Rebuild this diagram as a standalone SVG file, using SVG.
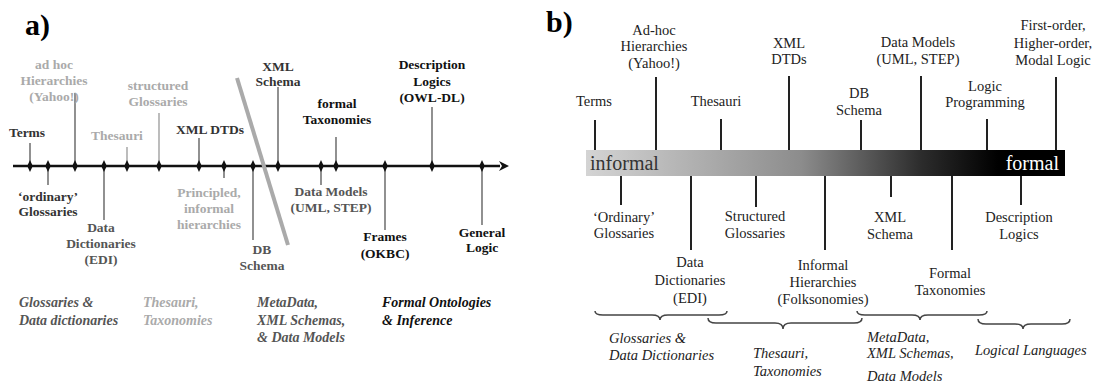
<svg xmlns="http://www.w3.org/2000/svg" width="1096" height="382" viewBox="0 0 1096 382">
<style>
.a{font-family:"Liberation Serif","Times New Roman",serif;font-weight:bold;font-size:13.5px;text-anchor:middle}
.ai{font-family:"Liberation Serif","Times New Roman",serif;font-weight:bold;font-style:italic;font-size:14px}
.b{font-family:"Liberation Serif","Times New Roman",serif;font-size:14.5px;text-anchor:middle;fill:#222}
.bi{font-family:"Liberation Serif","Times New Roman",serif;font-style:italic;font-size:14.5px;fill:#222}
.pl{font-family:"Liberation Serif","Times New Roman",serif;font-weight:bold;font-size:30px;fill:#000}
.dk{fill:#333}.gy{fill:#aaa}.md{fill:#555}.bk{fill:#111}
.tk{stroke:#555;stroke-width:1.3}
.tg{stroke:#999;stroke-width:1.3}
.tb{stroke:#222;stroke-width:2}
.br{fill:none;stroke:#444;stroke-width:1.5}
</style>
<defs>
<path id="dia" d="M0,-6 L2.8,0 L0,6 L-2.8,0 Z" fill="#111"/>
<marker id="arr" markerWidth="10" markerHeight="10" refX="1" refY="5" orient="auto" markerUnits="userSpaceOnUse">
<path d="M0,0 L10,5 L0,10 L3,5 Z" fill="#111"/>
</marker>
<linearGradient id="grad" x1="0" y1="0" x2="1" y2="0">
<stop offset="0" stop-color="#d4d4d4"/>
<stop offset="0.45" stop-color="#8c8c8c"/>
<stop offset="0.7" stop-color="#2c2c2c"/>
<stop offset="0.86" stop-color="#000"/>
<stop offset="1" stop-color="#000"/>
</linearGradient>
</defs>
<rect width="1096" height="382" fill="#fff"/>

<text class="pl" x="25" y="35">a)</text>
<text class="pl" x="546" y="32">b)</text>

<g id="connectors">
<line x1="13" y1="166" x2="500" y2="166" stroke="#111" stroke-width="2.6" marker-end="url(#arr)"/>
<line class="tk" x1="30" y1="143" x2="30" y2="166"/>
<line class="tk" x1="48" y1="166" x2="48" y2="185"/>
<line class="tk" x1="75" y1="93" x2="75" y2="166"/>
<line class="tk" x1="104" y1="166" x2="104" y2="220"/>
<line class="tg" x1="127" y1="147" x2="127" y2="166"/>
<line class="tg" x1="159" y1="113" x2="159" y2="166"/>
<line class="tk" x1="199" y1="138" x2="199" y2="166"/>
<line class="tk" x1="224" y1="166" x2="224" y2="178"/>
<line class="tk" x1="253" y1="166" x2="253" y2="240"/>
<line class="tk" x1="278" y1="87" x2="278" y2="166"/>
<line class="tk" x1="321" y1="166" x2="321" y2="185"/>
<line class="tk" x1="336" y1="137" x2="336" y2="166"/>
<line class="tk" x1="385" y1="166" x2="385" y2="230"/>
<line class="tk" x1="432" y1="107" x2="432" y2="166"/>
<line class="tk" x1="482" y1="166" x2="482" y2="225"/>
<use href="#dia" x="30" y="166"/><use href="#dia" x="48" y="166"/><use href="#dia" x="75" y="166"/>
<use href="#dia" x="104" y="166"/><use href="#dia" x="127" y="166"/><use href="#dia" x="159" y="166"/>
<use href="#dia" x="199" y="166"/><use href="#dia" x="224" y="166"/><use href="#dia" x="253" y="166"/>
<use href="#dia" x="278" y="166"/><use href="#dia" x="321" y="166"/><use href="#dia" x="336" y="166"/>
<use href="#dia" x="385" y="166"/><use href="#dia" x="432" y="166"/><use href="#dia" x="482" y="166"/>
<line x1="237" y1="78" x2="288" y2="245" stroke="#aaa" stroke-width="4"/>

<line class="tb" x1="595" y1="120" x2="595" y2="150"/>
<line class="tb" x1="656" y1="77" x2="656" y2="150"/>
<line class="tb" x1="721" y1="119" x2="721" y2="150"/>
<line class="tb" x1="789" y1="76" x2="789" y2="150"/>
<line class="tb" x1="861" y1="120" x2="861" y2="150"/>
<line class="tb" x1="921" y1="76" x2="921" y2="150"/>
<line class="tb" x1="987" y1="119" x2="987" y2="150"/>
<line class="tb" x1="1056" y1="77" x2="1056" y2="150"/>
<line class="tb" x1="621" y1="176" x2="621" y2="205"/>
<line class="tb" x1="691" y1="176" x2="691" y2="250"/>
<line class="tb" x1="756" y1="176" x2="756" y2="207"/>
<line class="tb" x1="825" y1="176" x2="825" y2="250"/>
<line class="tb" x1="891" y1="176" x2="891" y2="197"/>
<line class="tb" x1="952" y1="176" x2="952" y2="250"/>
<line class="tb" x1="1021" y1="176" x2="1021" y2="205"/>

<path class="br" d="M595,311 Q595,315 603,315 L652,315 Q660,315 660,320 Q660,315 668,315 L719,315 Q727,315 727,311"/>
<path class="br" d="M708,318 Q708,323 716,323 L775,323 Q783,323 783,329 Q783,323 791,323 L854,323 Q862,323 862,318"/>
<path class="br" d="M857,311 Q857,315 865,315 L912,315 Q920,315 920,320 Q920,315 928,315 L979,315 Q987,315 987,311"/>
<path class="br" d="M978,319 Q978,324 986,324 L1015,324 Q1023,324 1023,329 Q1023,324 1031,324 L1062,324 Q1070,324 1070,319"/>
</g>

<g id="a-terms"><text class="a dk" x="27" y="137">Terms</text></g>
<g id="a-ordinary"><text class="a dk" x="48" y="201">‘ordinary’</text><text class="a dk" x="48" y="216">Glossaries</text></g>
<g id="a-adhoc"><text class="a gy" x="54" y="69">ad hoc</text><text class="a gy" x="54" y="85">Hierarchies</text><text class="a gy" x="54" y="101">(Yahoo!)</text></g>
<g id="a-datadict"><text class="a md" x="101" y="232">Data</text><text class="a md" x="101" y="248">Dictionaries</text><text class="a md" x="101" y="264">(EDI)</text></g>
<g id="a-thesauri"><text class="a gy" x="117" y="140">Thesauri</text></g>
<g id="a-structured"><text class="a gy" x="158" y="90">structured</text><text class="a gy" x="158" y="106">Glossaries</text></g>
<g id="a-xmldtd"><text class="a dk" x="210" y="134">XML DTDs</text></g>
<g id="a-principled"><text class="a gy" x="209" y="197">Principled,</text><text class="a gy" x="209" y="213">informal</text><text class="a gy" x="209" y="229">hierarchies</text></g>
<g id="a-dbschema"><text class="a md" x="262" y="254">DB</text><text class="a md" x="262" y="270">Schema</text></g>
<g id="a-xmlschema"><text class="a dk" x="278" y="71">XML</text><text class="a dk" x="278" y="86">Schema</text></g>
<g id="a-datamodels"><text class="a md" x="331" y="196">Data Models</text><text class="a md" x="331" y="212">(UML, STEP)</text></g>
<g id="a-formaltax"><text class="a bk" x="337" y="108">formal</text><text class="a bk" x="337" y="124">Taxonomies</text></g>
<g id="a-frames"><text class="a bk" x="385" y="241">Frames</text><text class="a bk" x="385" y="258">(OKBC)</text></g>
<g id="a-dl"><text class="a bk" x="432" y="69">Description</text><text class="a bk" x="432" y="86">Logics</text><text class="a bk" x="432" y="102">(OWL-DL)</text></g>
<g id="a-general"><text class="a bk" x="482" y="237">General</text><text class="a bk" x="482" y="252">Logic</text></g>

<g id="a-cat1"><text class="ai md" x="19" y="307">Glossaries &amp;</text><text class="ai md" x="19" y="325">Data dictionaries</text></g>
<g id="a-cat2"><text class="ai gy" x="143" y="307">Thesauri,</text><text class="ai gy" x="143" y="325">Taxonomies</text></g>
<g id="a-cat3"><text class="ai md" x="257" y="307">MetaData,</text><text class="ai md" x="257" y="325">XML Schemas,</text><text class="ai md" x="257" y="342">&amp; Data Models</text></g>
<g id="a-cat4"><text class="ai bk" x="382" y="307">Formal Ontologies</text><text class="ai bk" x="382" y="325">&amp; Inference</text></g>

<g id="b-bar">
<rect x="586" y="150" width="479" height="26" fill="url(#grad)"/>
<text x="590" y="170" font-family="Liberation Serif,serif" font-size="20" fill="#333">informal</text>
<text x="1059" y="170" font-family="Liberation Serif,serif" font-size="20" fill="#fff" text-anchor="end">formal</text>
</g>

<g id="b-terms"><text class="b" x="594" y="106">Terms</text></g>
<g id="b-adhoc"><text class="b" x="654" y="35">Ad-hoc</text><text class="b" x="654" y="51">Hierarchies</text><text class="b" x="654" y="68">(Yahoo!)</text></g>
<g id="b-thesauri"><text class="b" x="716" y="106">Thesauri</text></g>
<g id="b-xmldtd"><text class="b" x="789" y="48">XML</text><text class="b" x="789" y="64">DTDs</text></g>
<g id="b-dbschema"><text class="b" x="859" y="98">DB</text><text class="b" x="859" y="115">Schema</text></g>
<g id="b-datamodels"><text class="b" x="918" y="47">Data Models</text><text class="b" x="918" y="64">(UML, STEP)</text></g>
<g id="b-logicprog"><text class="b" x="985" y="91">Logic</text><text class="b" x="985" y="107">Programming</text></g>
<g id="b-firstorder"><text class="b" x="1053" y="30">First-order,</text><text class="b" x="1053" y="48">Higher-order,</text><text class="b" x="1053" y="65">Modal Logic</text></g>
<g id="b-ordinary"><text class="b" x="624" y="222">‘Ordinary’</text><text class="b" x="624" y="238">Glossaries</text></g>
<g id="b-datadict"><text class="b" x="690" y="267">Data</text><text class="b" x="690" y="285">Dictionaries</text><text class="b" x="690" y="303">(EDI)</text></g>
<g id="b-structured"><text class="b" x="755" y="221">Structured</text><text class="b" x="755" y="238">Glossaries</text></g>
<g id="b-informal"><text class="b" x="823" y="270">Informal</text><text class="b" x="823" y="287">Hierarchies</text><text class="b" x="823" y="304">(Folksonomies)</text></g>
<g id="b-xmlschema"><text class="b" x="890" y="222">XML</text><text class="b" x="890" y="239">Schema</text></g>
<g id="b-formaltax"><text class="b" x="950" y="278">Formal</text><text class="b" x="950" y="295">Taxonomies</text></g>
<g id="b-dl"><text class="b" x="1019" y="222">Description</text><text class="b" x="1019" y="239">Logics</text></g>

<g id="b-cat1"><text class="bi" x="609" y="343">Glossaries &amp;</text><text class="bi" x="609" y="360">Data Dictionaries</text></g>
<g id="b-cat2"><text class="bi" x="753" y="358">Thesauri,</text><text class="bi" x="753" y="376">Taxonomies</text></g>
<g id="b-cat3"><text class="bi" x="867" y="342">MetaData,</text><text class="bi" x="867" y="358">XML Schemas,</text><text class="bi" x="867" y="381">Data Models</text></g>
<g id="b-cat4"><text class="bi" x="975" y="355">Logical Languages</text></g>
</svg>
